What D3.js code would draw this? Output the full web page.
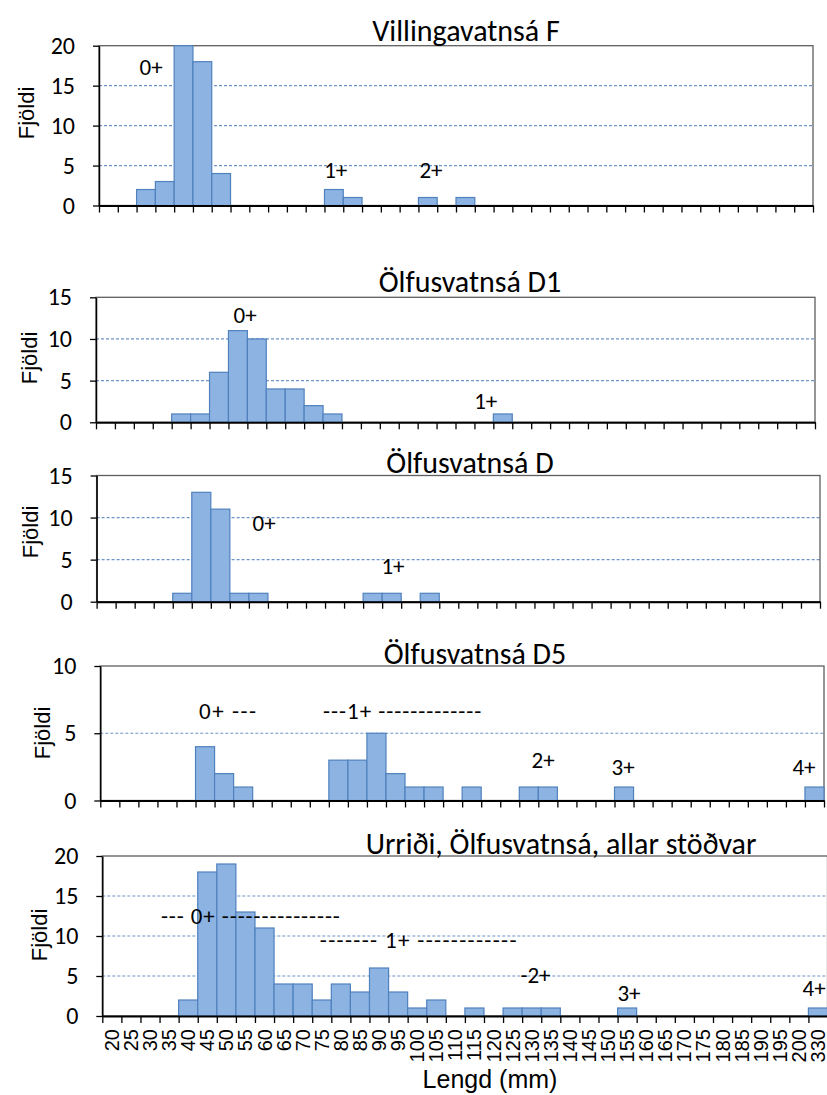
<!DOCTYPE html>
<html>
<head>
<meta charset="utf-8">
<script src="https://cdn.jsdelivr.net/npm/d3@7"></script>
<style>
  body { margin: 0; background: #fff; }
  svg { display: block; }
</style>
</head>
<body>
<svg id="chart" width="827" height="1095"></svg>
<script>
// ---- data ----
const categories = ["20","25","30","35","40","45","50","55","60","65","70","75","80","85","90","95","100","105","110","115","120","125","130","135","140","145","150","155","160","165","170","175","180","185","190","195","200","330"];

const villingavatnsaF = [0,0,2,3,20,18,4,0,0,0,0,0,2,1,0,0,0,1,0,1,0,0,0,0,0,0,0,0,0,0,0,0,0,0,0,0,0,0];
const olfusD1 =        [0,0,0,0,1,1,6,11,10,4,4,2,1,0,0,0,0,0,0,0,0,1,0,0,0,0,0,0,0,0,0,0,0,0,0,0,0,0];
const olfusD =         [0,0,0,0,1,13,11,1,1,0,0,0,0,0,1,1,0,1,0,0,0,0,0,0,0,0,0,0,0,0,0,0,0,0,0,0,0,0];
const olfusD5 =        [0,0,0,0,0,4,2,1,0,0,0,0,3,3,5,2,1,1,0,1,0,0,1,1,0,0,0,1,0,0,0,0,0,0,0,0,0,1];
const olfusAll =       [0,0,0,0,2,18,19,13,11,4,4,2,4,3,6,3,1,2,0,1,0,1,1,1,0,0,0,1,0,0,0,0,0,0,0,0,0,1];

const titles = ["Villingavatnsá F","Ölfusvatnsá D1","Ölfusvatnsá D","Ölfusvatnsá D5","Urriði, Ölfusvatnsá, allar stöðvar"];
const yMaxes = [20,15,15,10,20];
const yTickLists = [[0,5,10,15,20],[0,5,10,15],[0,5,10,15],[0,5,10],[0,5,10,15,20]];
const yLabel = "Fjöldi";
const xLabel = "Lengd (mm)";

// age-group annotations: text, start/centre bin, optional end bin, count level
const notes1 = [{t:"0+",b:2.77,v:17.3},{t:"1+",b:12.6,v:4.4},{t:"2+",b:17.67,v:4.4}];
const notes2 = [{t:"0+",b:7.88,v:12.9},{t:"1+",b:20.6,v:2.55}];
const notes3 = [{t:"0+",b:8.8,v:9.4},{t:"1+",b:15.57,v:4.2}];
const notes4 = [{t:"0+ ---",b:5.18,e:8.18,v:6.65},{t:"---1+ -------------",b:11.7,e:20.0,v:6.65},{t:"2+",b:23.25,v:3.0},{t:"3+",b:27.45,v:2.5},{t:"4+",b:36.95,v:2.5}];
const notes5 = [{t:"--- 0+ ---------------",b:3.07,e:12.45,v:12.5},{t:"------- 1+ ------------",b:11.4,e:21.7,v:9.5},{t:"-2+",b:22.7,v:5.1},{t:"3+",b:27.6,v:2.9},{t:"4+",b:37.3,v:3.5}];

// ---- layout ----
const panels = [
  {title:titles[0], values:villingavatnsaF, yMax:yMaxes[0], ticks:yTickLists[0], notes:notes1, left:99,   right:813, top:45.7,  bottom:205.5, tx:466, ty:30,  lx:26, ly:113},
  {title:titles[1], values:olfusD1,         yMax:yMaxes[1], ticks:yTickLists[1], notes:notes2, left:96,   right:815, top:297.3, bottom:422.3, tx:470, ty:281, lx:29, ly:358},
  {title:titles[2], values:olfusD,          yMax:yMaxes[2], ticks:yTickLists[2], notes:notes3, left:96.6, right:820, top:475.5, bottom:601.7, tx:470, ty:462, lx:30, ly:532},
  {title:titles[3], values:olfusD5,         yMax:yMaxes[3], ticks:yTickLists[3], notes:notes4, left:100.3,right:824, top:666,   bottom:800.5, tx:475, ty:653, lx:42, ly:733},
  {title:titles[4], values:olfusAll,        yMax:yMaxes[4], ticks:yTickLists[4], notes:notes5, left:102.3,right:827.5,top:856,  bottom:1016,  tx:561, ty:843, lx:39, ly:935, labels:true}
];

const svg = d3.select("#chart");
svg.append("rect").attr("width",827).attr("height",1095).attr("fill","#fff");

const calib = "Carlito, Lato, sans-serif";
const arial = "'Liberation Sans', Arial, sans-serif";

panels.forEach(p => {
  const g = svg.append("g");
  const x = d3.scaleBand().domain(categories).range([p.left, p.right]).padding(0);
  const xi = d3.scaleLinear().domain([0, categories.length]).range([p.left, p.right]);
  const y = d3.scaleLinear().domain([0, p.yMax]).range([p.bottom, p.top]);

  // gridlines
  g.selectAll("line.grid").data(p.ticks.filter(t => t > 0 && t < p.yMax)).join("line")
    .attr("x1", p.left).attr("x2", p.right)
    .attr("y1", d => y(d)).attr("y2", d => y(d))
    .attr("stroke", "#6f94c9").attr("stroke-width", 1.2).attr("stroke-dasharray", "3,2");

  // frame
  g.append("rect").attr("x", p.left).attr("y", p.top)
    .attr("width", p.right - p.left).attr("height", p.bottom - p.top)
    .attr("fill", "none").attr("stroke", "#5f5f5f").attr("stroke-width", 1.3);

  // bars
  g.selectAll("rect.bar").data(categories.map((c,i) => ({c, v:p.values[i]})).filter(d => d.v > 0)).join("rect")
    .attr("x", d => x(d.c)).attr("width", x.bandwidth())
    .attr("y", d => y(d.v)).attr("height", d => y(0) - y(d.v))
    .attr("fill", "#8db3e2").attr("stroke", "#4f81bd").attr("stroke-width", 1.2);

  // x axis (ticks at bin edges)
  const xAxis = g.append("g").attr("transform", `translate(0,${p.bottom})`)
    .call(d3.axisBottom(xi).tickValues(d3.range(categories.length + 1)).tickFormat("").tickSize(7).tickSizeOuter(0));
  xAxis.select(".domain").attr("stroke", "#000").attr("stroke-width", 2);
  xAxis.selectAll(".tick line").attr("stroke", "#000").attr("stroke-width", 1.3);

  // y axis
  const yAxis = g.append("g").attr("transform", `translate(${p.left},0)`)
    .call(d3.axisLeft(y).tickValues(p.ticks).tickSize(6).tickSizeOuter(0).tickPadding(18));
  yAxis.select(".domain").attr("stroke", "#000").attr("stroke-width", 1.5);
  yAxis.selectAll(".tick line").attr("stroke", "#000").attr("stroke-width", 1.3);
  yAxis.selectAll(".tick text").attr("font-family", calib).attr("font-size", 24).attr("fill", "#000");

  // title
  g.append("text").attr("x", p.tx).attr("y", p.ty).attr("text-anchor", "middle")
    .attr("dominant-baseline", "central")
    .attr("font-family", calib).attr("font-size", 30).attr("fill", "#000").text(p.title);

  // y label
  g.append("text").attr("transform", `translate(${p.lx},${p.ly}) rotate(-90)`)
    .attr("text-anchor", "middle").attr("dominant-baseline", "central")
    .attr("font-family", arial).attr("font-size", 22).attr("fill", "#000").text(yLabel);

  // annotations
  const nt = g.selectAll("text.note").data(p.notes).join("text")
    .attr("x", d => xi(d.b)).attr("y", d => y(d.v))
    .attr("text-anchor", d => d.e !== undefined ? "start" : "middle")
    .attr("dominant-baseline", "central")
    .attr("font-family", calib).attr("font-size", 23).attr("fill", "#000")
    .text(d => d.t);
  nt.filter(d => d.e !== undefined)
    .attr("textLength", d => xi(d.e) - xi(d.b)).attr("lengthAdjust", "spacing");

  // category labels for the bottom panel
  if (p.labels) {
    g.selectAll("text.xl").data(categories).join("text")
      .attr("transform", d => `translate(${x(d) + x.bandwidth()/2},${p.bottom + 13}) rotate(-90)`)
      .attr("text-anchor", "end").attr("dominant-baseline", "central")
      .attr("font-family", arial).attr("font-size", 20).attr("fill", "#000")
      .text(d => d);
    g.append("text").attr("x", 490).attr("y", 1079)
      .attr("text-anchor", "middle").attr("dominant-baseline", "central")
      .attr("font-family", arial).attr("font-size", 25).attr("fill", "#000").text(xLabel);
  }
});
</script>
</body>
</html>
